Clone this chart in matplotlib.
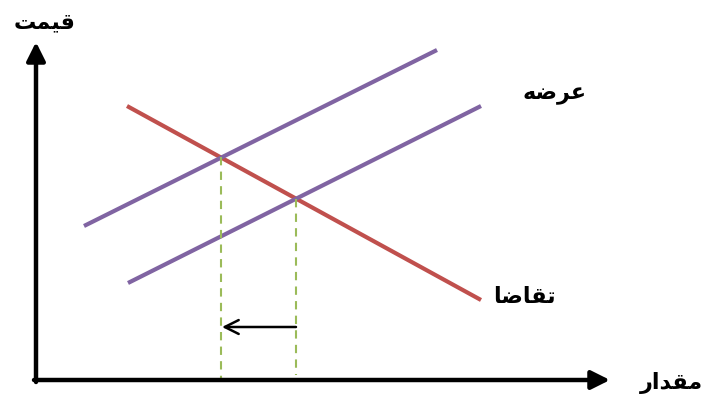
import matplotlib
matplotlib.use('Agg')
import matplotlib.pyplot as plt

# line endpoints in picture pixels (x from left, y from top)
supply1_x = [84, 437]
supply1_y = [226, 50]
supply2_x = [128, 481]
supply2_y = [283, 106]
demand_x = [127, 481]
demand_y = [106, 300]

# equilibrium points and dashed drops
eq_x = [221, 296]
eq_y = [157, 199]
base_y = [380, 375]

# shift arrow
shift_from = (296, 327)
shift_to = (222, 327)

origin = (36, 380)
y_axis_top = 42
x_axis_end = 610

# persian labels (pre-shaped presentation forms, visual order)
lbl_price = '\uFE96\uFEE4\uFBFF\uFED7'      # قیمت
lbl_supply = '\uFEEA\uFEBF\uFEAE\uFECB'     # عرضه
lbl_demand = '\uFE8E\uFEBF\uFE8E\uFED8\uFE97'  # تقاضا
lbl_qty = '\uFEAD\uFE8D\uFEAA\uFED8\uFEE3'  # مقدار

fig = plt.figure(figsize=(7.04, 3.99), dpi=100)
ax = fig.add_axes([0, 0, 1, 1])
ax.set_xlim(0, 704)
ax.set_ylim(399, 0)
ax.axis('off')

purple = '#8064A2'
red = '#C0504D'
green = '#9BBB59'

ax.plot(supply1_x, supply1_y, color=purple, lw=3, solid_capstyle='butt')
ax.plot(supply2_x, supply2_y, color=purple, lw=3, solid_capstyle='butt')
ax.plot(demand_x, demand_y, color=red, lw=3, solid_capstyle='butt', zorder=1)

for x, y, b in zip(eq_x, eq_y, base_y):
    ax.plot([x, x], [y, b], color=green, lw=1.5, ls=(0, (4, 3)))

# axes with arrowheads
ax.annotate('', xy=(origin[0], y_axis_top), xytext=(origin[0], origin[1] + 2),
            arrowprops=dict(arrowstyle='-|>', lw=3.2, color='black',
                            mutation_scale=28, shrinkA=0, shrinkB=0))
ax.annotate('', xy=(x_axis_end, origin[1]), xytext=(origin[0] - 2, origin[1]),
            arrowprops=dict(arrowstyle='-|>', lw=3.2, color='black',
                            mutation_scale=28, shrinkA=0, shrinkB=0))

ax.annotate('', xy=shift_to, xytext=shift_from,
            arrowprops=dict(arrowstyle='->', lw=1.8, color='black',
                            mutation_scale=25, shrinkA=0, shrinkB=0))

fnt = dict(family=['DejaVu Sans'], fontsize=16, fontweight='bold', color='black')
ax.text(45, 22, lbl_price, ha='center', va='center', **fnt)
ax.text(555, 95, lbl_supply, ha='center', va='center', **fnt)
ax.text(524, 297, lbl_demand, ha='center', va='center', **fnt)
ax.text(671, 383, lbl_qty, ha='center', va='center', **fnt)

fig.savefig('out.png', dpi=100)
